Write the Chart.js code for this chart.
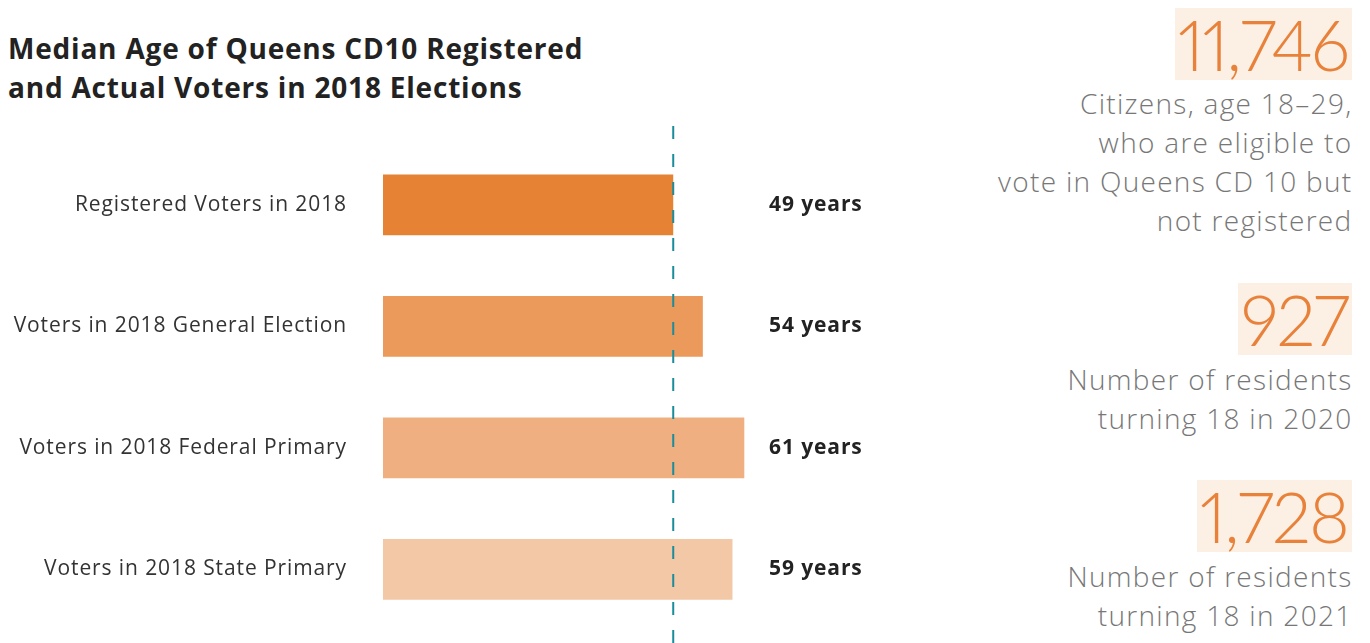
<!DOCTYPE html>
<html lang="en">
<head>
  <meta charset="UTF-8">
  <title>Median Age of Queens CD10 Voters</title>
  <script src="https://cdnjs.cloudflare.com/ajax/libs/Chart.js/4.4.1/chart.umd.min.js"></script>
  <style>
    body { margin: 0; padding: 0; overflow: hidden; background: #fff; font-family: "Open Sans", Lato, sans-serif; }
    #title {
      position: absolute; left: 8px; top: 29px;
      font-size: 28px; font-weight: 700; line-height: 39px; color: #222; letter-spacing: 0.8px;
    }
    #chartBox { position: absolute; left: 0; top: 0; width: 960px; height: 643px; }
    .stat { position: absolute; right: 18px; text-align: right; }
    .big {
      display: inline-block; background: #fcefe4; color: #e8823a;
      font-family: Lato, sans-serif; font-variant-numeric: proportional-nums;
      font-size: 70px; font-weight: 300; line-height: 72px; padding: 0 4px 0 3px; letter-spacing: -2px;
    }
    .note { color: #777; font-size: 28px; font-weight: 300; line-height: 39px; letter-spacing: 1.3px; margin-right: -0.5px; }
  </style>
</head>
<body>

  <div id="title">Median Age of Queens CD10 Registered<br>and Actual Voters in 2018 Elections</div>

  <div id="chartBox"><canvas id="ageChart" width="960" height="643"></canvas></div>

  <!-- right hand facts -->
  <div class="stat" style="top: 8px;">
    <div class="big">11,746</div>
    <div class="note" style="margin-top: 4px;">Citizens, age 18–29,<br>who are eligible to<br>vote in Queens CD 10 but<br>not registered</div>
  </div>
  <div class="stat" style="top: 283px;">
    <div class="big">927</div>
    <div class="note" style="margin-top: 5px;">Number of residents<br>turning 18 in 2020</div>
  </div>
  <div class="stat" style="top: 480px;">
    <div class="big">1,728</div>
    <div class="note" style="margin-top: 5px;">Number of residents<br>turning 18 in 2021</div>
  </div>

  <script>
    const categories = [
      "Registered Voters in 2018",
      "Voters in 2018 General Election",
      "Voters in 2018 Federal Primary",
      "Voters in 2018 State Primary"
    ];
    const medianAges = [49, 54, 61, 59];
    const barColors = ["#e68233", "#eb9a5b", "#efaf80", "#f3c8a6"];
    const referenceAge = 49;

    // widen the canvas text a little (the original face is wider)
    const spacing = {
      id: "spacing",
      beforeDraw(chart) { chart.ctx.letterSpacing = "0.9px"; }
    };

    // value labels ("49 years") in a column just right of the plot
    const valueLabels = {
      id: "valueLabels",
      afterDatasetsDraw(chart) {
        const ctx = chart.ctx;
        const meta = chart.getDatasetMeta(0);
        ctx.save();
        ctx.font = "bold 21px 'Open Sans', Lato, sans-serif";
        ctx.letterSpacing = "0.9px";
        ctx.fillStyle = "#222";
        ctx.textBaseline = "middle";
        ctx.textAlign = "left";
        meta.data.forEach((bar, i) => {
          ctx.fillText(medianAges[i] + " years", chart.chartArea.right + 1, bar.y);
        });
        ctx.restore();
      }
    };

    // dashed reference line
    const refLine = {
      id: "refLine",
      afterDatasetsDraw(chart) {
        const ctx = chart.ctx;
        const x = chart.scales.x.getPixelForValue(referenceAge);
        ctx.save();
        ctx.strokeStyle = "#1a8c9c";
        ctx.lineWidth = 2;
        ctx.setLineDash([13, 15]);
        ctx.beginPath();
        ctx.moveTo(x, 126);
        ctx.lineTo(x, chart.height);
        ctx.stroke();
        ctx.restore();
      }
    };

    new Chart(document.getElementById("ageChart"), {
      type: "bar",
      data: {
        labels: categories,
        datasets: [{
          data: medianAges,
          backgroundColor: barColors,
          categoryPercentage: 1,
          barPercentage: 0.5
        }]
      },
      options: {
        indexAxis: "y",
        responsive: false,
        animation: false,
        layout: { padding: { top: 144, bottom: 13, left: 0, right: 192 } },
        plugins: { legend: { display: false }, tooltip: { enabled: false } },
        scales: {
          x: { display: false, min: 0, max: 65 },
          y: {
            grid: { display: false, drawTicks: false },
            border: { display: false },
            ticks: { color: "#333", padding: 36, font: { family: "'Open Sans', Lato, sans-serif", size: 21 } },
            afterFit(scale) {
              scale.width = 383;
              scale.paddingTop = 0;
              scale.paddingBottom = 0;
            }
          }
        }
      },
      plugins: [spacing, valueLabels, refLine]
    });
  </script>
</body>
</html>
